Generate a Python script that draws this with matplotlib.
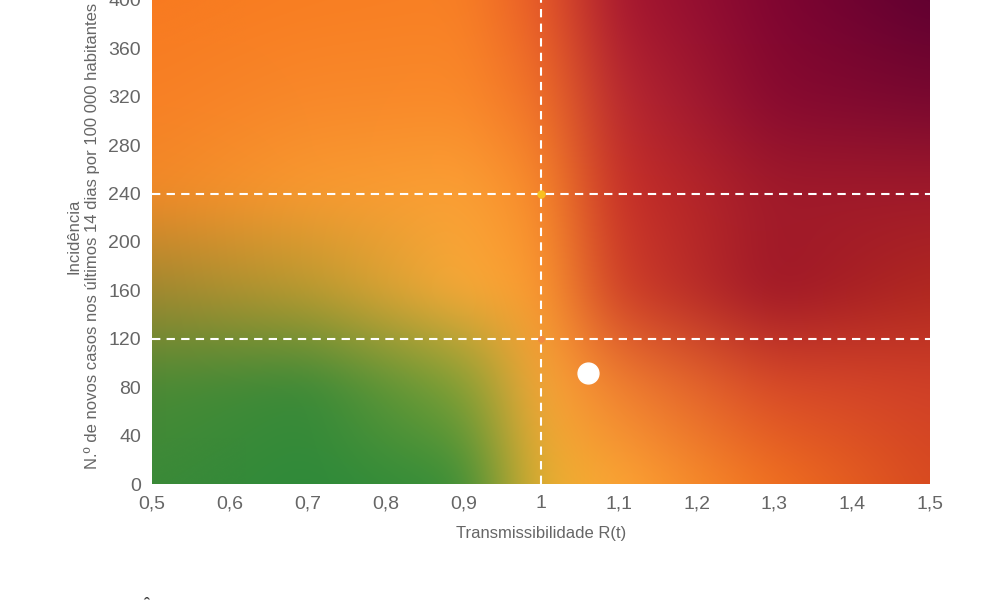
import matplotlib.pyplot as plt
import numpy as np
from matplotlib.colors import to_rgb

plt.rcParams['font.family'] = ['Liberation Sans', 'DejaVu Sans']

# color control grid of the risk background
grid_x = [0.5, 0.7, 0.9, 1.0, 1.1, 1.3, 1.5]
grid_y = [0, 80, 160, 240, 320, 400]
grid_colors = [
    ['#3a8a38', '#2e8a3a', '#3a8f38', '#e8b030', '#fca535', '#f07020', '#d84a20'],
    ['#4a8a35', '#3a8a38', '#80a035', '#fba838', '#f08030', '#d84a28', '#d04028'],
    ['#a08830', '#b89a30', '#f8aa38', '#fb9a30', '#d04028', '#a01828', '#b02820'],
    ['#f08a28', '#f89a30', '#fba035', '#f88a2a', '#c83028', '#a01a2a', '#a01a2a'],
    ['#f88025', '#f8882a', '#fa8a2a', '#f07028', '#b82830', '#880a30', '#780830'],
    ['#f87a20', '#f87e22', '#f88025', '#e85a28', '#a81830', '#800530', '#600030'],
]

rt_point = 1.06
inc_point = 92
thresh_x = [1.0]
thresh_y = [120, 240]
xticks = [0.5, 0.6, 0.7, 0.8, 0.9, 1.0, 1.1, 1.2, 1.3, 1.4, 1.5]
yticks = list(range(0, 401, 40))

# build smooth background
rgb = np.array([[to_rgb(c) for c in row] for row in grid_colors])
xs = np.linspace(0.5, 1.5, 400)
ys = np.linspace(0, 410, 300)
tmp = np.array([[np.interp(xs, grid_x, rgb[r, :, ch]) for ch in range(3)] for r in range(len(grid_y))])
img = np.zeros((len(ys), len(xs), 3))
for ch in range(3):
    for i in range(len(xs)):
        img[:, i, ch] = np.interp(ys, grid_y, tmp[:, ch, i])

# gaussian blur to soften the grid seams
k = np.exp(-0.5 * (np.arange(-30, 31) / 12.0) ** 2)
k /= k.sum()
pad = 30
for ch in range(3):
    a = np.pad(img[:, :, ch], pad, mode='edge')
    a = np.apply_along_axis(lambda r: np.convolve(r, k, mode='same'), 1, a)
    a = np.apply_along_axis(lambda c: np.convolve(c, k, mode='same'), 0, a)
    img[:, :, ch] = a[pad:-pad, pad:-pad]
img = np.clip(img, 0, 1)

fig = plt.figure(figsize=(10, 6), dpi=100)
ax = fig.add_axes([0.152, 0.1933, 0.778, 0.827])
ax.imshow(img, origin='lower', extent=[0.5, 1.5, 0, 410], aspect='auto', interpolation='bicubic')
ax.set_xlim(0.5, 1.5)
ax.set_ylim(0, 410)

for x in thresh_x:
    ax.axvline(x, color='white', ls=(0, (4, 3)), lw=1.5)
for y in thresh_y:
    ax.axhline(y, color='white', ls=(0, (4, 3)), lw=1.5)
ax.plot([1.0], [240], 'o', color='#f8c020', ms=5)
ax.plot([1.0], [120], 'o', color='#f08a40', ms=4)
ax.plot([rt_point], [inc_point], 'o', color='white', ms=15)

ax.set_xticks(xticks)
ax.set_xticklabels([('%g' % v).replace('.', ',') for v in xticks])
ax.set_yticks(yticks)
ax.tick_params(length=0, labelsize=14, colors='#666666', pad=8)
for s in ax.spines.values():
    s.set_visible(False)
ax.set_xlabel('Transmissibilidade R(t)', color='#666666', fontsize=12, labelpad=10)
ax.set_ylabel('Incidência\nN.º de novos casos nos últimos 14 dias por 100 000 habitantes',
              color='#666666', fontsize=12, labelpad=6)

fig.text(0.097, -0.012, 'INCIDÊNCIA', fontsize=12, fontweight='bold', color='#444444', va='center')

fig.savefig('out.png')
